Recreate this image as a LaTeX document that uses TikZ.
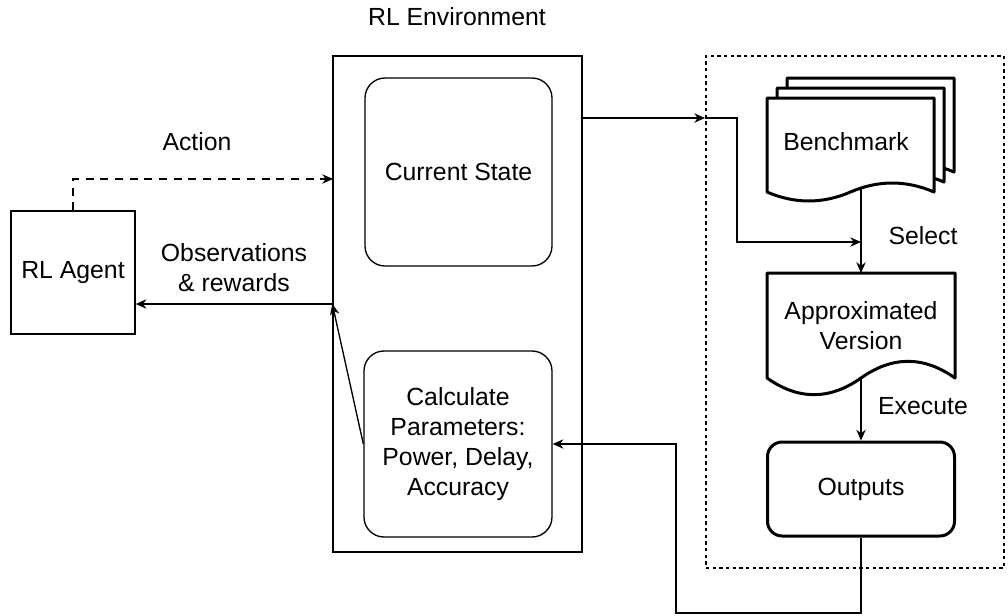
\documentclass[tikz,border=0pt]{standalone}
\usepackage{fontspec}
\setmainfont{Liberation Sans}
\usetikzlibrary{arrows.meta,positioning}

% document shape: top-left x, top y, width, height, wave depth
\newcommand{\docshape}[5]{%
  \draw[doc] (#1,#2) -- ++(#3,0) -- ({#1+#3},{#2+#4-#5/2})
    .. controls ({#1+5*#3/6},{#2+#4-1.1*#5}) and ({#1+2*#3/3},{#2+#4-1.1*#5}) .. ({#1+#3/2},{#2+#4-#5/2})
    .. controls ({#1+#3/3},{#2+#4+0.1*#5}) and ({#1+#3/6},{#2+#4+0.1*#5}) .. ({#1},{#2+#4-#5/2}) -- cycle;
}

\begin{document}
\begin{tikzpicture}[x=0.75pt, y=-0.75pt,
  font=\fontsize{18.6pt}{22.5pt}\selectfont,
  box/.style={draw, line width=1pt, align=center},
  rbox/.style={box, rounded corners=15pt},
  lbl/.style={align=center, inner sep=0pt},
  doc/.style={draw, fill=white, line width=2.25pt, line join=round},
  arr/.style={-{Stealth[length=8pt, width=7pt, inset=2.5pt]}, line width=1pt}
]
\useasboundingbox (0,0) rectangle (1008,615);

% RL side
\node[box, minimum width=186.75pt, minimum height=372pt] (env) at (457.5,304) {};
\node[lbl] (envtitle) at (457,17) {RL Environment};
\node[rbox, minimum width=140.25pt, minimum height=141pt] (state) at (458.5,172) {Current State};
\node[rbox, minimum width=141pt, minimum height=139.5pt] (calc) at (458,444) {Calculate\\Parameters:\\Power, Delay,\\Accuracy};
\node[box, minimum width=93pt, minimum height=92.25pt] (agent) at (73,272.5) {RL Agent};

\node[lbl] (act) at (197,142) {Action};
\node[lbl] (obs) at (234,268) {Observations\\\& rewards};

\coordinate (actin) at (333,179);
\draw[arr, dash pattern=on 6pt off 5pt] (agent.north) |- (actin);
\draw[arr] (env.west) -- (agent.east |- env.west);
\draw[arr] (calc.west) -- (env.west);

% approximation side
\node[draw, dash pattern=on 2.5pt off 2.5pt, line width=1pt, minimum width=223.5pt, minimum height=384pt] (sim) at (855,312) {};

\docshape{787}{78}{167}{104}{20}
\docshape{777}{88}{167}{104}{20}
\docshape{767}{98}{167}{104}{20}
\node[lbl] (bench) at (846,142) {Benchmark};
\coordinate (benchout) at (861,188);

\docshape{767}{273}{188}{123.5}{37}
\node[lbl, minimum width=141pt, minimum height=78.75pt, anchor=north] (appr) at (861,273) {Approximated\\Version};

\node[rbox, rounded corners=11pt, line width=2.25pt, minimum width=140.25pt, minimum height=70.5pt] (outp) at (861,489) {Outputs};

\node[lbl] (selectlbl) at (923,236) {Select};
\node[lbl] (execlbl) at (923,406) {Execute};

\coordinate (simin) at (705,118);
\coordinate (selpt) at (861,242);
\coordinate (fb) at (676,613);

\draw[arr] (env.east |- simin) -- (simin);
\draw[arr] (simin) -- ++(32,0) |- (selpt);
\draw[arr] (benchout) -- (appr.north);
\draw[arr] (appr.south) -- (outp.north);
\draw[arr] (outp.south) |- (fb) |- (calc.east);
\end{tikzpicture}
\end{document}
